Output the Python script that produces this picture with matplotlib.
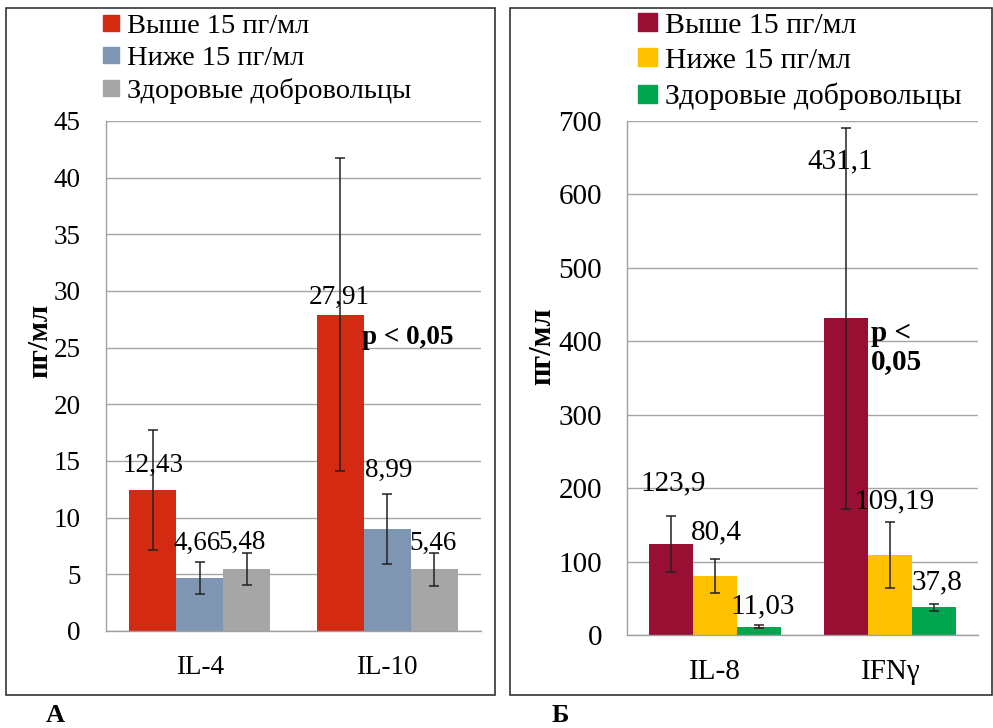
import matplotlib
matplotlib.use("Agg")
import matplotlib.pyplot as plt
import matplotlib.patches as mpatches
import numpy as np

plt.rcParams["font.family"] = ["Liberation Serif", "DejaVu Serif"]

# --- data -------------------------------------------------------------------
series_names = ["Выше 15 пг/мл", "Ниже 15 пг/мл", "Здоровые добровольцы"]

cats_a = ["IL-4", "IL-10"]
vals_a = [[12.43, 27.91], [4.66, 8.99], [5.48, 5.46]]
errs_a = [[5.3, 13.8], [1.4, 3.1], [1.4, 1.45]]
labels_a = [["12,43", "27,91"], ["4,66", "8,99"], ["5,48", "5,46"]]

cats_b = ["IL-8", "IFNγ"]
vals_b = [[123.9, 431.1], [80.4, 109.19], [11.03, 37.8]]
errs_b = [[38.5, 259.0], [23.0, 45.0], [2.0, 4.5]]
labels_b = [["123,9", "431,1"], ["80,4", "109,19"], ["11,03", "37,8"]]

colors_a = ["#D42A12", "#7F96B2", "#A6A6A6"]
colors_b = ["#990F33", "#FFC000", "#00A550"]

# label offsets above bar top, in pixels (dx, dy)
offs_a = [[(0, 25), (-1, 17)], [(-3, 35), (1, 59)], [(-5, 26), (-1, 26)]]
offs_b = [[(2, 61), (-6, 157)], [(2, 44), (4, 53)], [(4, 21), (3, 25)]]

PX = 0.72  # points per pixel at dpi 100


def draw_panel(fig, rect, cats, vals, errs, labels, offs, colors, fs, ylim, yticks):
    ax = fig.add_axes(rect)
    x = np.arange(len(cats))
    w = 0.25
    for i in range(3):
        xs = x + (i - 1) * w
        ax.bar(xs, vals[i], w, color=colors[i], zorder=2, label=series_names[i])
        ax.errorbar(xs, vals[i], yerr=errs[i], fmt="none", ecolor="#222222",
                    elinewidth=1.1, capsize=3.3, capthick=1.1, zorder=3)
        for j in range(len(cats)):
            dx, dy = offs[i][j]
            ax.annotate(labels[i][j], (xs[j], vals[i][j]),
                        xytext=(dx * PX, dy * PX), textcoords="offset points",
                        ha="center", va="center", fontsize=fs, zorder=4)
    ax.set_xlim(-0.5, len(cats) - 0.5)
    ax.set_ylim(*ylim)
    ax.set_yticks(yticks)
    ax.set_xticks(x)
    ax.set_xticklabels(cats)
    ax.tick_params(axis="both", length=0, labelsize=fs)
    ax.tick_params(axis="y", pad=18)
    ax.tick_params(axis="x", pad=17)
    ax.yaxis.grid(True, color="#A6A6A6", lw=1.0, zorder=0)
    for s in ["top", "right"]:
        ax.spines[s].set_visible(False)
    for s in ["left", "bottom"]:
        ax.spines[s].set_color("#A0A0A0")
        ax.spines[s].set_linewidth(1.0)
    return ax


fig = plt.figure(figsize=(9.93, 7.28), dpi=100)

# panel frames
fig.patches.append(mpatches.Rectangle((6 / 993, 1 - 695 / 728), 489 / 993, 687 / 728,
                                      transform=fig.transFigure, fill=False,
                                      edgecolor="#333333", lw=1.2))
fig.patches.append(mpatches.Rectangle((510 / 993, 1 - 695 / 728), 482 / 993, 687 / 728,
                                      transform=fig.transFigure, fill=False,
                                      edgecolor="#333333", lw=1.2))

ax_a = draw_panel(fig, [106 / 993, 1 - 631 / 728, 375 / 993, 510 / 728],
                  cats_a, vals_a, errs_a, labels_a, offs_a, colors_a, 19.5,
                  (0, 45), np.arange(0, 46, 5))
ax_b = draw_panel(fig, [627 / 993, 1 - 635 / 728, 351 / 993, 514 / 728],
                  cats_b, vals_b, errs_b, labels_b, offs_b, colors_b, 21,
                  (0, 700), np.arange(0, 701, 100))

ax_a.text(0.865, 25.9, "p < 0,05", fontsize=19.5, fontweight="bold",
          ha="left", va="center", zorder=5)
ax_b.text(0.89, 392, "p <\n0,05", fontsize=21, fontweight="bold",
          ha="left", va="center", linespacing=1.05, zorder=5)

fig.text(40 / 993, 1 - 341 / 728, "пг/мл", rotation=90, fontsize=21,
         fontweight="bold", ha="center", va="center")
fig.text(543 / 993, 1 - 346 / 728, "пг/мл", rotation=90, fontsize=22,
         fontweight="bold", ha="center", va="center")

# legends
h_a = [mpatches.Patch(color=c, label=n) for c, n in zip(colors_a, series_names)]
h_b = [mpatches.Patch(color=c, label=n) for c, n in zip(colors_b, series_names)]
fig.legend(handles=h_a, loc="upper left", bbox_to_anchor=(83 / 993, 1 + 6 / 728),
           frameon=False, fontsize=20.5, handlelength=0.55, handleheight=0.5,
           handletextpad=0.3, labelspacing=0.25, borderpad=0.2)
fig.legend(handles=h_b, loc="upper left", bbox_to_anchor=(617 / 993, 1 + 8 / 728),
           frameon=False, fontsize=21.5, handlelength=0.65, handleheight=0.55,
           handletextpad=0.25, labelspacing=0.3, borderpad=0.2)

fig.text(55 / 993, 1 - 716 / 728, "А", fontsize=19, fontweight="bold",
         ha="center", va="center")
fig.text(560 / 993, 1 - 716 / 728, "Б", fontsize=19, fontweight="bold",
         ha="center", va="center")

fig.savefig("out.png", dpi=100)
